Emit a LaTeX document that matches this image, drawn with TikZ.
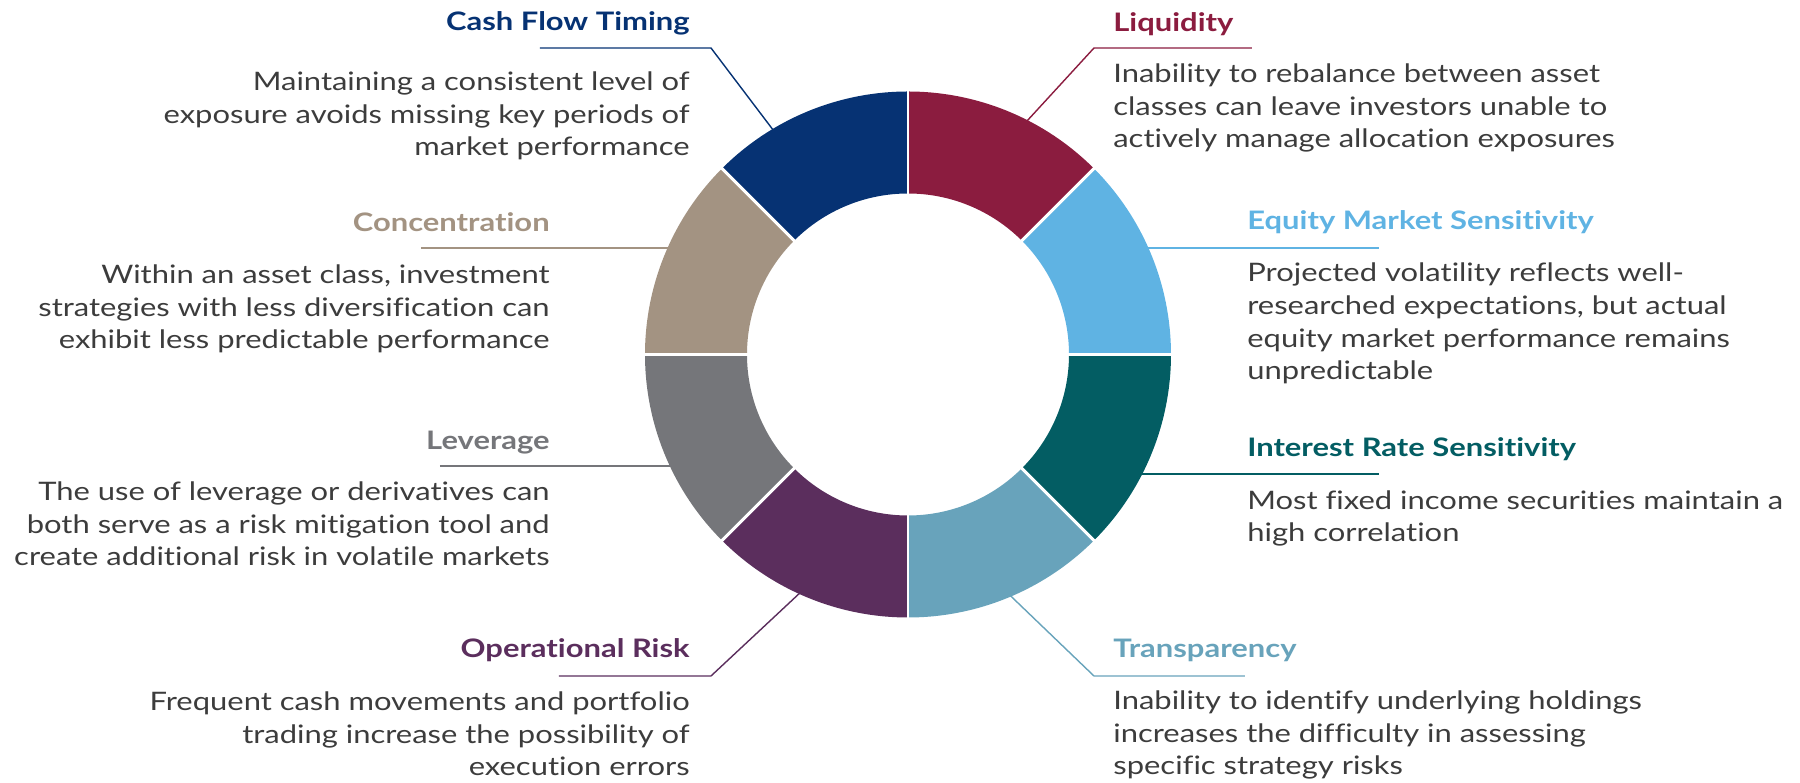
\documentclass[tikz,border=0pt]{standalone}
\usepackage{fontspec}
\setmainfont{Lato}[FakeStretch=1.215, Ligatures=NoCommon]
\usetikzlibrary{calc}

\definecolor{cashcol}{HTML}{063273}
\definecolor{liqcol}{HTML}{8B1C3F}
\definecolor{eqcol}{HTML}{5FB3E3}
\definecolor{ratecol}{HTML}{035D63}
\definecolor{transcol}{HTML}{68A3BB}
\definecolor{opcol}{HTML}{5B2E5D}
\definecolor{levcol}{HTML}{75767A}
\definecolor{conccol}{HTML}{A39382}
\definecolor{bodytext}{HTML}{3C3C3C}

\begin{document}
\begin{tikzpicture}[
    x=0.02cm, y=0.02cm,
    title_style/.style={inner sep=0pt, font=\fontsize{14.5pt}{18.5pt}\selectfont\bfseries},
    desc_style/.style={inner sep=0pt, text=bodytext, font=\fontsize{14.5pt}{18.6pt}\selectfont},
    left_title/.style={title_style, anchor=base east},
    right_title/.style={title_style, anchor=base west},
    left_desc/.style={desc_style, anchor=base east, align=right}, % base = last line
    right_desc/.style={desc_style, anchor=base west, align=left},
    lead_style/.style={line width=0.8pt},
    gap_style/.style={white, line width=1.7pt}
]

% canvas, ring centre at origin
\useasboundingbox (-908,-428.5) rectangle (892,354.5);

% LEADER LINES (drawn first, the ring covers their inner ends)
\coordinate (cash_ring) at (121:262);
\coordinate (cash_bend) at (-197,306.5);
\coordinate (cash_end)  at (-368,306.5);
\draw[lead_style, cashcol] (cash_end) -- (cash_bend) -- (cash_ring);

\coordinate (liq_ring) at (63:262);
\coordinate (liq_bend) at (186,306.5);
\coordinate (liq_end)  at (344,306.5);
\draw[lead_style, liqcol] (liq_ring) -- (liq_bend) -- (liq_end);

\coordinate (conc_ring) at (156:250);
\coordinate (conc_end)  at (-487,106.5);
\draw[lead_style, conccol] (conc_end) -- (conc_ring |- conc_end);

\coordinate (eq_ring) at (24:250);
\coordinate (eq_end)  at (471,106.5);
\draw[lead_style, eqcol] (eq_ring |- eq_end) -- (eq_end);

\coordinate (lev_ring) at (205:250);
\coordinate (lev_end)  at (-468,-111.5);
\draw[lead_style, levcol] (lev_end) -- (lev_ring |- lev_end);

\coordinate (rate_ring) at (-27:250);
\coordinate (rate_end)  at (471,-119.5);
\draw[lead_style, ratecol] (rate_ring |- rate_end) -- (rate_end);

\coordinate (op_ring) at (245.6:262);
\coordinate (op_bend) at (-197,-321.5);
\coordinate (op_end)  at (-349,-321.5);
\draw[lead_style, opcol] (op_ring) -- (op_bend) -- (op_end);

\coordinate (trans_ring) at (-67:262);
\coordinate (trans_bend) at (186,-321.5);
\coordinate (trans_end)  at (337,-321.5);
\draw[lead_style, transcol] (trans_ring) -- (trans_bend) -- (trans_end);

% RING SEGMENTS
\fill[eqcol]    (0:263)   arc[start angle=0,   end angle=45,  radius=263] -- (45:161)  arc[start angle=45,  end angle=0,   radius=161] -- cycle;
\fill[liqcol]   (45:263)  arc[start angle=45,  end angle=90,  radius=263] -- (90:161)  arc[start angle=90,  end angle=45,  radius=161] -- cycle;
\fill[cashcol]  (90:263)  arc[start angle=90,  end angle=135, radius=263] -- (135:161) arc[start angle=135, end angle=90,  radius=161] -- cycle;
\fill[conccol]  (135:263) arc[start angle=135, end angle=180, radius=263] -- (180:161) arc[start angle=180, end angle=135, radius=161] -- cycle;
\fill[levcol]   (180:263) arc[start angle=180, end angle=225, radius=263] -- (225:161) arc[start angle=225, end angle=180, radius=161] -- cycle;
\fill[opcol]    (225:263) arc[start angle=225, end angle=270, radius=263] -- (270:161) arc[start angle=270, end angle=225, radius=161] -- cycle;
\fill[transcol] (270:263) arc[start angle=270, end angle=315, radius=263] -- (315:161) arc[start angle=315, end angle=270, radius=161] -- cycle;
\fill[ratecol]  (315:263) arc[start angle=315, end angle=360, radius=263] -- (360:161) arc[start angle=360, end angle=315, radius=161] -- cycle;

% white gaps between segments
\draw[gap_style] (0:155) -- (0:270);
\draw[gap_style] (45:155) -- (45:270);
\draw[gap_style] (90:155) -- (90:270);
\draw[gap_style] (135:155) -- (135:270);
\draw[gap_style] (180:155) -- (180:270);
\draw[gap_style] (225:155) -- (225:270);
\draw[gap_style] (270:155) -- (270:270);
\draw[gap_style] (315:155) -- (315:270);

% LEFT COLUMN
\node[left_title, cashcol] (cash_title) at (-218,323.5) {Cash Flow Timing};
\node[left_desc] (cash_desc) at (-218,198.5) {Maintaining a consistent level of\\exposure avoids missing key periods of\\market performance};

\node[left_title, conccol] (conc_title) at (-358,122.5) {Concentration};
\node[left_desc] (conc_desc) at (-358,5.5) {Within an asset class, investment\\strategies with less diversification can\\exhibit less predictable performance};

\node[left_title, levcol] (lev_title) at (-358,-95.5) {Leverage};
\node[left_desc] (lev_desc) at (-358,-211.5) {The use of leverage or derivatives can\\both serve as a risk mitigation tool and\\create additional risk in volatile markets};

\node[left_title, opcol] (op_title) at (-218,-303.5) {Operational Risk};
\node[left_desc] (op_desc) at (-218,-421.5) {Frequent cash movements and portfolio\\trading increase the possibility of\\execution errors};

% RIGHT COLUMN
\node[right_title, liqcol] (liq_title) at (205,322.5) {Liquidity};
\node[right_desc] (liq_desc) at (205,206.5) {Inability to rebalance between asset\\classes can leave investors unable to\\actively manage allocation exposures};

\node[right_title, eqcol] (eq_title) at (339,124.5) {Equity Market Sensitivity};
\node[right_desc] (eq_desc) at (339,-25.5) {Projected volatility reflects well-\\researched expectations, but actual\\equity market performance remains\\unpredictable};

\node[right_title, ratecol] (rate_title) at (339,-102.5) {Interest Rate Sensitivity};
\node[right_desc] (rate_desc) at (339,-187.5) {Most fixed income securities maintain a\\high correlation};

\node[right_title, transcol] (trans_title) at (205,-303.5) {Transparency};
\node[right_desc] (trans_desc) at (205,-420.5) {Inability to identify underlying holdings\\increases the difficulty in assessing\\specific strategy risks};

\end{tikzpicture}
\end{document}
